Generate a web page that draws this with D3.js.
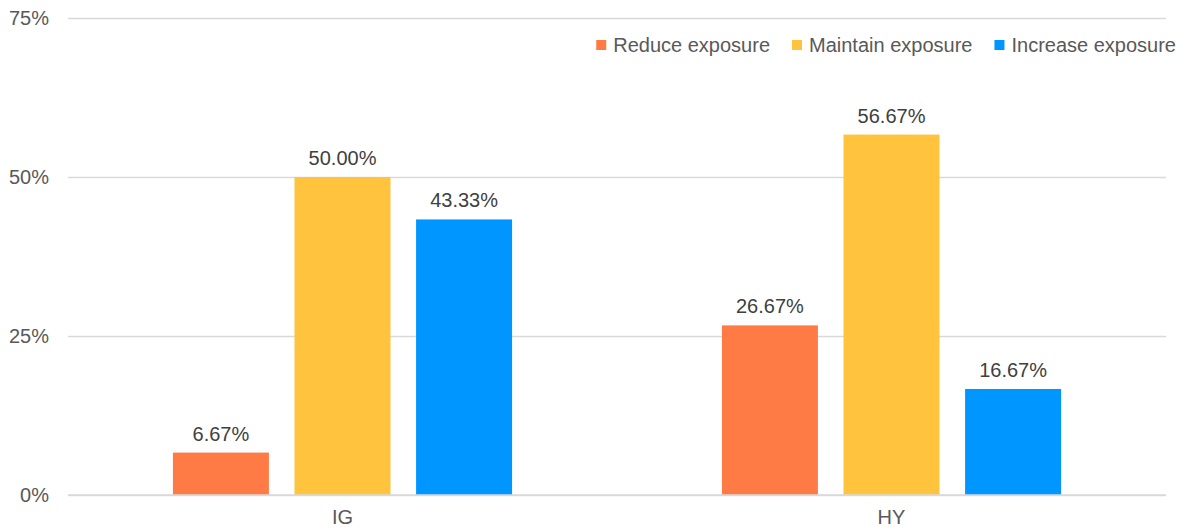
<!DOCTYPE html>
<html>
<head>
<meta charset="utf-8">
<script src="https://cdn.jsdelivr.net/npm/d3@7"></script>
<style>
  html, body { margin: 0; padding: 0; background: #ffffff; }
  svg { display: block; font-family: "Liberation Sans", Arial, sans-serif; }
</style>
</head>
<body>
<svg id="chart" width="1184" height="532"></svg>
<script>
// Survey responses by credit segment
const categories = ["IG", "HY"];
const seriesNames = ["Reduce exposure", "Maintain exposure", "Increase exposure"];
const reduceValues = [6.67, 26.67];
const maintainValues = [50.00, 56.67];
const increaseValues = [43.33, 16.67];
const yTicks = [0, 25, 50, 75];
const seriesColors = ["#FF7B45", "#FFC33D", "#0096FF"];

const seriesValues = [reduceValues, maintainValues, increaseValues];

const svg = d3.select("#chart");
const plot = { left: 68, right: 1166, top: 18, bottom: 495 };

const x0 = d3.scaleBand().domain(categories).range([plot.left, plot.right]).paddingInner(0).paddingOuter(0);
const x1 = d3.scaleBand().domain(seriesNames).range([0, x0.bandwidth()]).paddingInner(0.2105).paddingOuter(0.863);
const y = d3.scaleLinear().domain([0, 75]).range([plot.bottom, plot.top]);

// gridlines and y labels
const yAxis = d3.axisLeft(y).tickValues(yTicks).tickSize(-(plot.right - plot.left)).tickPadding(19)
  .tickFormat(d => d + "%");
const gy = svg.append("g").attr("transform", `translate(${plot.left},0)`).call(yAxis);
gy.select(".domain").remove();
gy.selectAll(".tick line").attr("stroke", "#d9d9d9").attr("stroke-width", 1.3);
gy.selectAll(".tick text").attr("fill", "#595959").attr("font-size", 20)
  .attr("font-family", "Liberation Sans, Arial, sans-serif");

// bars
const groups = svg.append("g").selectAll("g").data(categories).join("g")
  .attr("transform", d => `translate(${x0(d)},0)`);

groups.each(function(cat, ci) {
  const g = d3.select(this);
  seriesNames.forEach((s, si) => {
    const v = seriesValues[si][ci];
    g.append("rect")
      .attr("x", x1(s))
      .attr("y", y(v))
      .attr("width", x1.bandwidth())
      .attr("height", y(0) - y(v))
      .attr("fill", seriesColors[si]);
    g.append("text")
      .attr("x", x1(s) + x1.bandwidth() / 2)
      .attr("y", y(v) - 12)
      .attr("text-anchor", "middle")
      .attr("font-size", 20)
      .attr("fill", "#404040")
      .text(v.toFixed(2) + "%");
  });
});

// baseline redrawn over bar bottoms
svg.append("line")
  .attr("x1", plot.left).attr("x2", plot.right)
  .attr("y1", y(0)).attr("y2", y(0))
  .attr("stroke", "#d9d9d9").attr("stroke-width", 1.3);

// category labels
const xAxis = d3.axisBottom(x0).tickSize(0).tickPadding(15);
const gx = svg.append("g").attr("transform", `translate(0,${plot.bottom})`).call(xAxis);
gx.select(".domain").remove();
gx.selectAll(".tick text").attr("fill", "#595959").attr("font-size", 20)
  .attr("font-family", "Liberation Sans, Arial, sans-serif");

// legend, laid out right-to-left from the right edge
const legend = svg.append("g");
let cursor = 1176;
const items = seriesNames.map((s, i) => ({ s, c: seriesColors[i] })).reverse();
items.forEach(it => {
  const t = legend.append("text")
    .attr("y", 52)
    .attr("font-size", 20)
    .attr("fill", "#595959")
    .text(it.s);
  const w = t.node().getComputedTextLength();
  const tx = cursor - w;
  t.attr("x", tx);
  legend.append("rect")
    .attr("x", tx - 17).attr("y", 40)
    .attr("width", 10).attr("height", 10)
    .attr("fill", it.c);
  cursor = tx - 17 - 22;
});
</script>
</body>
</html>
